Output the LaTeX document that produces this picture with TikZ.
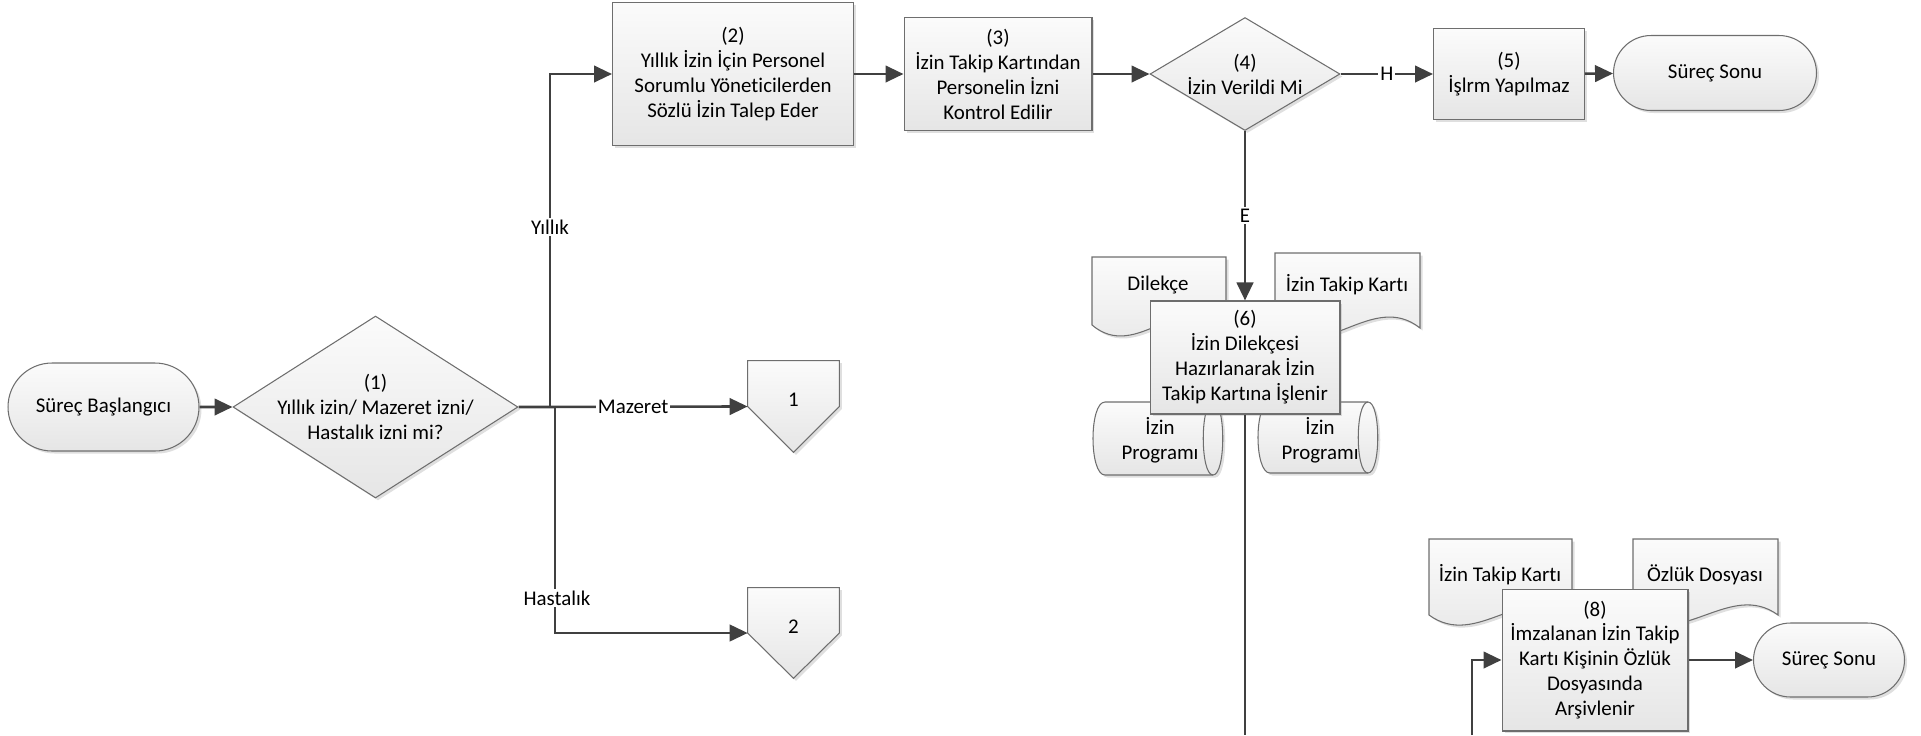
\documentclass[tikz,border=0pt]{standalone}
\usepackage{fontspec}
\setmainfont{Carlito}[Ligatures=NoCommon]
\usetikzlibrary{shapes.geometric,shapes.misc,shadows,arrows.meta,calc}
\pgfdeclarelayer{background}
\pgfsetlayers{background,main}
\definecolor{conncol}{HTML}{404040}
\definecolor{bordcol}{HTML}{6E6E6E}
\tikzset{
  shp/.style={draw=bordcol, line width=0.6pt, top color=gray!3, bottom color=gray!20,
    drop shadow={shadow xshift=0.05cm, shadow yshift=-0.05cm, opacity=0.25}},
  txt/.style={font=\fontsize{11.9}{14.2}\selectfont, align=center, text=black},
  proc/.style={shp, txt, rectangle, inner sep=0pt},
  term/.style={shp, txt, rounded rectangle, inner sep=0pt},
  dec/.style={shp, txt, diamond, inner xsep=-24pt, inner ysep=-14pt},
  connline/.style={draw=conncol, line width=1.5pt},
  arr/.style={connline, -{Triangle[length=0.36cm, width=0.33cm]}},
  lbl/.style={txt, fill=white, inner sep=1pt},
  ghost/.style={txt, inner sep=0pt},
}
\begin{document}
\begin{tikzpicture}[x=0.02cm, y=-0.02cm]
\useasboundingbox (0,0) rectangle (1921,735);

% top row
\node[term, minimum width=3.82cm, minimum height=1.76cm] (start) at (103.5,407) {Süreç Başlangıcı};
\node[dec, minimum width=5.7cm, minimum height=3.64cm] (d1) at (375.5,407) {(1)\\Yıllık izin/ Mazeret izni/\\Hastalık izni mi?};
\node[proc, minimum width=4.82cm, minimum height=2.86cm] (b2) at (733,74) {(2)\\Yıllık İzin İçin Personel\\Sorumlu Yöneticilerden\\Sözlü İzin Talep Eder};
\node[proc, minimum width=3.76cm, minimum height=2.26cm] (b3) at (998,74) {(3)\\İzin Takip Kartından\\Personelin İzni\\Kontrol Edilir};
\node[dec, minimum width=3.8cm, minimum height=2.26cm] (d4) at (1245,74) {(4)\\İzin Verildi Mi};
\node[proc, minimum width=3.02cm, minimum height=1.82cm] (b5) at (1509,74) {(5)\\İşlrm Yapılmaz};
\node[term, minimum width=4.06cm, minimum height=1.5cm] (end1) at (1715,73) {Süreç Sonu};

% off-page references
\node[ghost, minimum width=1.82cm, minimum height=1.82cm] (p1) at (793.5,406.5) {\raisebox{0.26cm}{1}};
\node[ghost, minimum width=1.82cm, minimum height=1.80cm] (p2) at (793.5,633) {\raisebox{0.24cm}{2}};
\begin{pgfonlayer}{background}
\path[shp] (p1.north west) -- (p1.north east) -- (p1.east) -- (p1.south) -- (p1.west) -- cycle;
\path[shp] (p2.north west) -- (p2.north east) -- (p2.east) -- (p2.south) -- (p2.west) -- cycle;
\end{pgfonlayer}

% documents and stored data around step 6
\path[shp] (1092,257) -- (1226,257) -- (1226,325) .. controls (1181,287) and (1137,363) .. (1092,325) -- cycle;
\node[ghost] (tdil) at (1158,285) {Dilekçe};
\path[shp] (1275,253) -- (1420,253) -- (1420,328) .. controls (1372,290) and (1323,366) .. (1275,328) -- cycle;
\node[ghost] (tikk1) at (1347,285) {İzin Takip Kartı};
\path[shp] (1105,402) -- (1213,402) .. controls (1226,402) and (1226,475) .. (1213,475) -- (1105,475) .. controls (1089,475) and (1089,402) .. (1105,402) -- cycle;
\draw[bordcol, line width=0.6pt] (1213,402) .. controls (1200,402) and (1200,475) .. (1213,475);
\node[ghost] (tprog1) at (1160,440) {İzin\\Programı};
\path[shp] (1270,402) -- (1368,402) .. controls (1381,402) and (1381,473) .. (1368,473) -- (1270,473) .. controls (1254,473) and (1254,402) .. (1270,402) -- cycle;
\draw[bordcol, line width=0.6pt] (1368,402) .. controls (1355,402) and (1355,473) .. (1368,473);
\node[ghost] (tprog2) at (1320,440) {İzin\\Programı};

\node[proc, minimum width=3.8cm, minimum height=2.26cm] (b6) at (1245,357.5) {(6)\\İzin Dilekçesi\\Hazırlanarak İzin\\Takip Kartına İşlenir};

% documents around step 8
\path[shp] (1429,539) -- (1572,539) -- (1572,615) .. controls (1524,580) and (1477,650) .. (1429,615) -- cycle;
\node[ghost] (tikk2) at (1500,575) {İzin Takip Kartı};
\path[shp] (1633,539) -- (1778,539) -- (1778,615) .. controls (1730,580) and (1681,650) .. (1633,615) -- cycle;
\node[ghost] (tozl) at (1705,575) {Özlük Dosyası};

\node[proc, minimum width=3.72cm, minimum height=2.84cm] (b8) at (1595,660) {(8)\\İmzalanan İzin Takip\\Kartı Kişinin Özlük\\Dosyasında\\Arşivlenir};
\node[term, minimum width=3.02cm, minimum height=1.48cm] (end2) at (1829,660) {Süreç Sonu};

% connectors
\coordinate (jy) at (550,407);
\coordinate (jh) at (555,407);
\draw[arr] (start) -- (d1);
\draw[arr] (d1.east) -- node[lbl] (lmaz) {Mazeret} (p1.west);
\draw[arr] (jy) |- (b2.west);
\draw[arr] (jh) |- (p2.west);
\node[lbl] (lyil) at (550,227) {Yıllık};
\node[lbl] (lhas) at (557,598) {Hastalık};
\draw[arr] (b2) -- (b3);
\draw[arr] (b3) -- (d4);
\draw[arr] (d4) -- node[lbl] (lh) {H} (b5);
\draw[arr] (b5) -- (end1);
\draw[arr] (d4) -- node[lbl] (le) {E} (b6);
\coordinate (bot6) at (1245,735);
\draw[connline] (b6) -- (bot6);
\coordinate (bot8) at (1472,735);
\draw[arr] (bot8) |- (b8.west);
\draw[arr] (b8) -- (end2);
\end{tikzpicture}
\end{document}
